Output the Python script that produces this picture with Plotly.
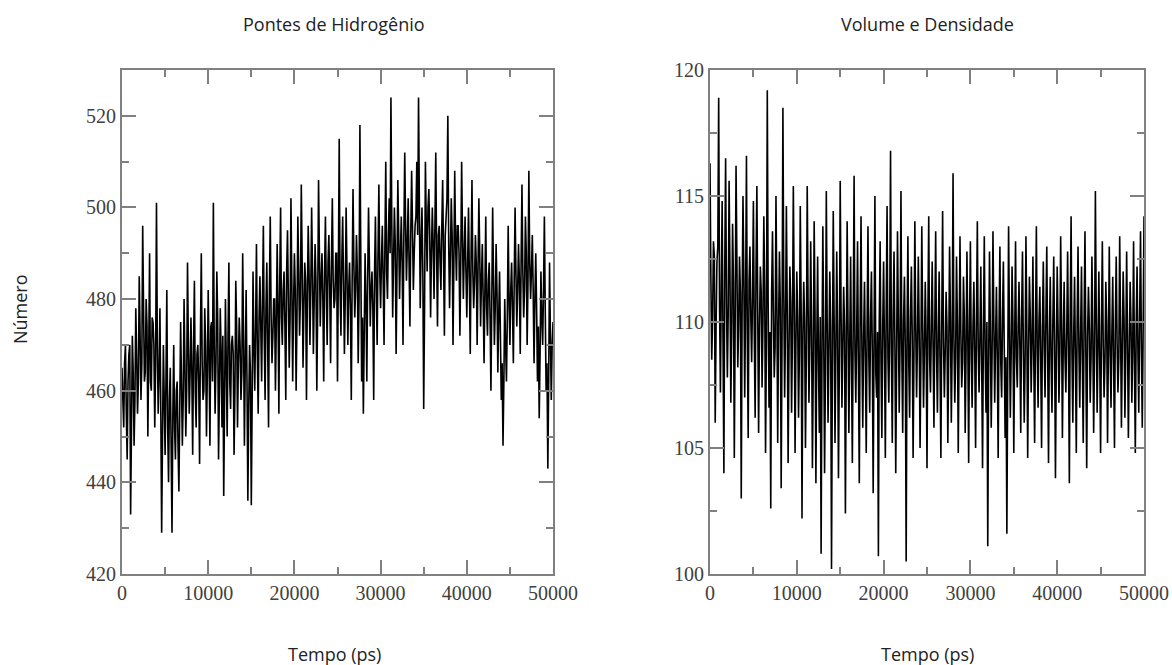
import plotly.graph_objects as go

# ---- data ----
# samples at 0, 200, 400, ... 50000 ps (spikes) and at 100, 300, ... 49900 ps (core)
time_ps = [i * 100 for i in range(501)]

hbonds_even = [
    465, 452, 470, 445, 468, 433, 472, 448, 478, 455,
    485, 458, 496, 462, 480, 450, 490, 460, 475, 452,
    501, 455, 478, 429, 470, 446, 482, 440, 465, 429,
    470, 445, 462, 438, 475, 448, 480, 450, 488, 455,
    476, 446, 484, 452, 470, 444, 490, 458, 478, 450,
    482, 448, 475, 501, 455, 486, 445, 478, 452, 437,
    480, 450, 488, 456, 472, 446, 484, 452, 476, 458,
    490, 448, 482, 436, 470, 435, 486, 460, 492, 455,
    485, 462, 496, 458, 488, 452, 498, 466, 480, 460,
    492, 455, 500, 470, 486, 458, 495, 465, 502, 462,
    490, 460, 498, 472, 505, 465, 488, 458, 496, 470,
    500, 468, 492, 460, 506, 474, 490, 462, 498, 470,
    494, 466, 502, 478, 490, 462, 515, 472, 498, 468,
    500, 470, 488, 458, 504, 476, 494, 466, 518, 462,
    455, 490, 462, 500, 474, 486, 458, 498, 470, 505,
    478, 496, 470, 510, 480, 502, 524, 476, 500, 468,
    506, 480, 498, 470, 512, 484, 502, 474, 508, 482,
    496, 510, 524, 478, 500, 456, 510, 486, 504, 476,
    500, 480, 512, 474, 496, 482, 506, 472, 498, 520,
    478, 502, 470, 508, 484, 496, 472, 510, 480, 498,
    476, 500, 468, 506, 478, 494, 470, 502, 474, 492,
    466, 498, 472, 488, 460, 500, 470, 492, 464, 486,
    458, 448, 480, 462, 496, 470, 488, 466, 500, 474,
    492, 468, 505, 476, 498, 470, 508, 480, 494, 466,
    490, 462, 454, 486, 470, 498, 460, 443, 488, 458,
    475,
]

hbonds_odd = [
    458, 466, 455, 462, 470, 452, 464, 458, 468, 462,
    472, 466, 478, 464, 474, 468, 462, 476, 470, 466,
    470, 464, 456, 450, 458, 462, 452, 458, 448, 455,
    452, 460, 448, 456, 462, 458, 466, 460, 470, 464,
    464, 470, 460, 468, 462, 472, 466, 460, 470, 464,
    468, 474, 462, 470, 466, 476, 460, 468, 472, 458,
    466, 472, 462, 470, 468, 460, 474, 466, 470, 464,
    472, 466, 462, 456, 464, 458, 470, 474, 468, 476,
    474, 480, 472, 478, 470, 482, 476, 472, 480, 474,
    478, 484, 476, 482, 474, 486, 480, 476, 484, 478,
    482, 476, 486, 480, 488, 478, 484, 480, 486, 482,
    486, 480, 484, 478, 490, 484, 480, 486, 482, 488,
    482, 488, 484, 480, 490, 486, 482, 488, 484, 480,
    486, 482, 478, 484, 488, 482, 486, 480, 490, 476,
    472, 480, 484, 488, 482, 478, 486, 482, 490, 486,
    488, 484, 492, 486, 494, 490, 496, 488, 492, 486,
    494, 490, 488, 494, 496, 492, 488, 494, 496, 490,
    498, 494, 500, 492, 486, 478, 496, 500, 494, 490,
    492, 496, 490, 494, 488, 496, 490, 494, 502, 492,
    490, 494, 488, 492, 496, 490, 488, 494, 490, 486,
    488, 484, 490, 486, 484, 488, 486, 490, 484, 480,
    482, 478, 484, 476, 480, 484, 478, 482, 476, 472,
    466, 462, 470, 476, 480, 482, 478, 484, 486, 482,
    484, 488, 486, 482, 490, 484, 488, 486, 482, 480,
    478, 474, 468, 476, 482, 478, 466, 462, 472, 470,
]

volume_even = [
    116.3, 108.5, 113.2, 106.0, 112.4, 118.9, 107.2, 114.8, 104.0, 116.5,
    107.8, 115.6, 106.8, 113.9, 104.6, 116.2, 108.2, 112.6, 103.0, 115.0,
    107.0, 116.6, 105.4, 113.0, 108.4, 114.8, 106.2, 115.4, 105.6, 112.2,
    107.4, 114.2, 104.8, 119.2, 106.6, 102.6, 113.6, 107.8, 115.0, 105.2,
    112.8, 103.4, 118.5, 107.0, 114.6, 104.4, 112.2, 106.4, 115.4, 104.8,
    112.0, 106.2, 114.6, 102.2, 111.6, 105.0, 115.4, 106.8, 113.2, 104.2,
    114.0, 103.6, 112.6, 105.6, 100.8, 113.8, 104.0, 115.2, 106.0, 112.0,
    100.2, 114.4, 105.2, 112.8, 103.8, 115.6, 106.6, 111.4, 102.4, 114.0,
    105.6, 112.6, 104.4, 115.8, 106.8, 113.2, 103.6, 114.2, 105.8, 111.6,
    104.8, 113.8, 106.4, 112.0, 103.2, 115.0, 107.0, 100.7, 113.2, 105.4,
    112.4, 104.6, 114.6, 106.8, 116.8, 105.2, 112.8, 104.0, 113.6, 106.4,
    115.2, 105.6, 111.8, 100.5, 113.4, 106.2, 112.2, 104.6, 114.0, 107.0,
    112.6, 105.0, 113.8, 106.6, 111.6, 104.2, 114.2, 107.2, 112.4, 105.8,
    113.6, 106.4, 112.0, 104.6, 114.4, 107.0, 111.2, 105.2, 113.0, 106.0,
    115.9, 106.8, 112.6, 104.8, 113.4, 107.4, 111.8, 105.6, 112.8, 104.4,
    113.2, 106.6, 111.6, 105.0, 114.0, 107.2, 112.2, 104.2, 113.4, 106.4,
    101.1, 112.8, 105.8, 113.6, 106.8, 111.4, 104.6, 113.0, 107.0, 112.4,
    105.4, 101.6, 113.8, 106.2, 112.2, 104.8, 113.2, 107.4, 111.6, 105.6,
    112.8, 106.0, 113.4, 104.6, 111.8, 107.2, 112.6, 105.2, 113.8, 106.6,
    111.4, 105.0, 112.4, 107.0, 113.0, 104.4, 111.8, 106.4, 112.6, 103.8,
    112.2, 106.8, 113.4, 105.4, 111.6, 107.2, 112.8, 103.6, 114.2, 106.0,
    111.8, 104.8, 113.0, 106.6, 112.2, 105.2, 113.6, 104.2, 111.4, 106.8,
    112.6, 105.6, 115.2, 106.4, 112.0, 104.8, 113.2, 107.0, 111.6, 105.2,
    113.0, 106.6, 111.8, 105.0, 112.6, 107.2, 113.4, 105.8, 112.0, 106.2,
    112.8, 105.4, 111.6, 106.8, 113.2, 104.8, 112.2, 106.4, 113.6, 105.8,
    114.2,
]

volume_odd = [
    111.8, 110.2, 112.6, 109.8, 113.0, 110.6, 111.4, 109.2, 112.2, 110.8,
    110.4, 112.0, 109.6, 111.6, 110.0, 112.4, 109.8, 111.2, 110.6, 111.8,
    110.8, 109.4, 111.6, 110.2, 111.0, 109.6, 112.0, 110.4, 109.8, 111.2,
    110.0, 111.4, 109.2, 110.8, 109.6, 111.2, 110.4, 109.0, 111.0, 109.8,
    110.6, 109.4, 111.2, 109.8, 110.4, 108.8, 110.8, 109.6, 111.0, 109.2,
    110.2, 108.8, 110.6, 109.4, 110.0, 108.6, 110.8, 109.2, 109.8, 108.4,
    110.4, 109.0, 108.2, 110.2, 108.6, 109.6, 108.0, 110.0, 108.8, 109.8,
    108.4, 110.2, 108.8, 109.6, 108.2, 110.4, 109.0, 109.8, 108.6, 110.0,
    109.2, 108.4, 110.0, 108.8, 109.6, 108.2, 110.2, 109.0, 109.4, 108.6,
    109.8, 108.6, 110.2, 108.8, 109.4, 108.0, 109.6, 110.0, 108.4, 109.8,
    109.0, 110.4, 108.6, 109.8, 108.8, 110.2, 109.2, 108.6, 110.0, 109.4,
    108.8, 110.0, 109.0, 109.6, 108.4, 110.2, 109.4, 108.8, 109.8, 109.2,
    109.6, 108.6, 110.0, 108.8, 109.4, 110.2, 108.6, 109.8, 109.0, 110.0,
    108.8, 109.6, 108.4, 110.0, 109.2, 108.8, 109.8, 108.6, 110.2, 109.0,
    109.4, 108.6, 110.0, 109.0, 109.6, 108.4, 110.2, 108.8, 109.4, 110.0,
    108.6, 109.8, 108.8, 110.2, 109.0, 109.4, 108.4, 109.8, 108.8, 110.0,
    108.2, 109.6, 108.8, 110.0, 109.2, 108.6, 109.8, 108.4, 110.2, 109.0,
    108.6, 108.0, 109.8, 108.8, 110.0, 109.2, 108.6, 109.8, 109.0, 110.2,
    109.0, 108.4, 109.8, 108.8, 110.2, 109.2, 108.6, 109.6, 108.8, 110.0,
    108.6, 109.8, 109.0, 110.2, 108.8, 109.4, 108.4, 110.0, 109.2, 108.6,
    109.8, 108.8, 110.0, 109.2, 108.6, 109.6, 109.0, 110.2, 108.8, 109.4,
    108.6, 110.0, 109.0, 109.6, 108.4, 110.2, 108.8, 109.4, 109.8, 108.6,
    109.6, 108.8, 110.2, 109.0, 108.6, 109.8, 109.2, 108.4, 110.0, 109.0,
    108.8, 109.6, 108.4, 110.0, 109.2, 108.6, 109.8, 109.0, 110.2, 108.8,
    109.4, 108.6, 110.0, 109.0, 108.4, 109.8, 108.8, 110.2, 109.0, 109.6,
]


def interleave(even, odd):
    out = []
    for i in range(len(odd)):
        out.append(even[i])
        out.append(odd[i])
    out.append(even[-1])
    return out


hbonds = interleave(hbonds_even, hbonds_odd)
volume = interleave(volume_even, volume_odd)

titles = ["Pontes de Hidrogênio", "Volume e Densidade"]
x_title = "Tempo (ps)"
y_title = "Número"
x_ticks = [0, 10000, 20000, 30000, 40000, 50000]

W, H = 1172, 665
FRAME = "#808080"
TICKFONT = dict(family="Liberation Serif", size=20, color="#404040")
LABELFONT = dict(family="Open Sans", size=18, color="#222222")


def dx(p):
    return p / W


def dy(p):
    return 1 - p / H


fig = go.Figure()
fig.add_trace(go.Scatter(x=time_ps, y=hbonds, mode="lines",
                         line=dict(color="black", width=1.6, simplify=False),
                         xaxis="x", yaxis="y", showlegend=False))
fig.add_trace(go.Scatter(x=time_ps, y=volume, mode="lines",
                         line=dict(color="black", width=1.6, simplify=False),
                         xaxis="x2", yaxis="y2", showlegend=False))

ydom = [dy(574), dy(70)]
common = dict(showline=True, linecolor=FRAME, linewidth=2, mirror="allticks",
              ticks="inside", ticklen=14, tickwidth=2, tickcolor=FRAME,
              showgrid=False, zeroline=False, tickfont=TICKFONT, automargin=False)
minor_x = dict(ticks="inside", ticklen=7, tickwidth=2, tickcolor=FRAME, dtick=5000, tick0=0)

fig.update_layout(
    width=W, height=H, margin=dict(l=0, r=0, t=0, b=0, autoexpand=False),
    plot_bgcolor="white", paper_bgcolor="white",
    xaxis=dict(domain=[dx(122), dx(553)], range=[0, 50000], tickvals=x_ticks,
               tickformat="d", minor=minor_x, anchor="y", **common),
    yaxis=dict(domain=ydom, range=[420, 530], dtick=20, tick0=420,
               minor=dict(ticks="inside", ticklen=7, tickwidth=2, tickcolor=FRAME, dtick=10, tick0=420),
               anchor="x", **common),
    xaxis2=dict(domain=[dx(710), dx(1144)], range=[0, 50000], tickvals=x_ticks,
                tickformat="d", minor=minor_x, anchor="y2", **common),
    yaxis2=dict(domain=ydom, range=[100, 120], dtick=5, tick0=100,
                minor=dict(ticks="inside", ticklen=7, tickwidth=2, tickcolor=FRAME, dtick=2.5, tick0=100),
                anchor="x2", **common),
)

ann = [
    dict(text=titles[0], x=dx(334), y=dy(24)),
    dict(text=titles[1], x=dx(927), y=dy(24)),
    dict(text=x_title, x=dx(334), y=dy(654)),
    dict(text=x_title, x=dx(927), y=dy(654)),
    dict(text=y_title, x=dx(20), y=dy(309), textangle=-90),
]
for a in ann:
    a.update(xref="paper", yref="paper", showarrow=False, font=LABELFONT,
             xanchor="center", yanchor="middle")
fig.update_layout(annotations=ann)

fig.write_html("out.html")
